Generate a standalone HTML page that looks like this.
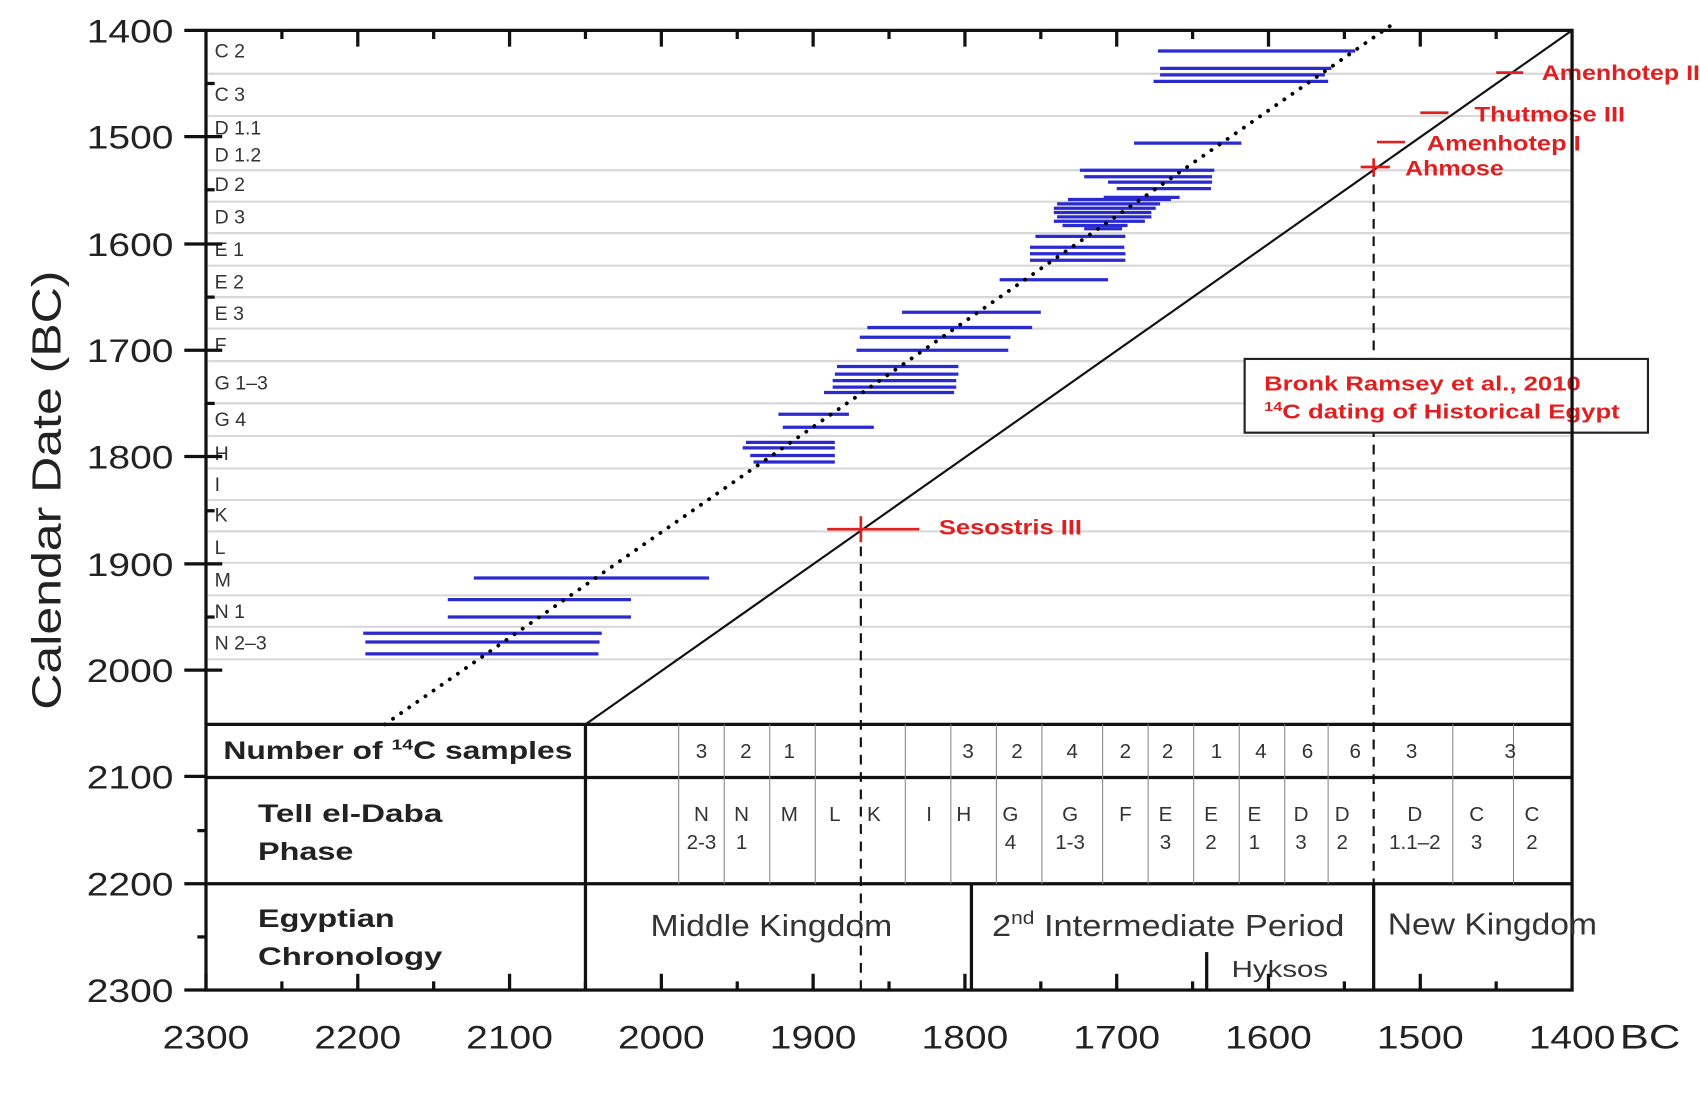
<!DOCTYPE html><html><head><style>html,body{margin:0;padding:0;background:#fff}svg{display:block}text{font-family:"Liberation Sans",sans-serif}</style></head><body>
<svg width="1700" height="1105" viewBox="0 0 1568 1019" preserveAspectRatio="none" xmlns="http://www.w3.org/2000/svg">
<g stroke="#d8d8d8" stroke-width="2">
<line x1="192" x2="1448" y1="68" y2="68"/><line x1="192" x2="1448" y1="107" y2="107"/><line x1="192" x2="1448" y1="157" y2="157"/><line x1="192" x2="1448" y1="186" y2="186"/><line x1="192" x2="1448" y1="215" y2="215"/><line x1="192" x2="1448" y1="245" y2="245"/><line x1="192" x2="1448" y1="274" y2="274"/><line x1="192" x2="1448" y1="303" y2="303"/><line x1="192" x2="1448" y1="333" y2="333"/><line x1="192" x2="1448" y1="372" y2="372"/><line x1="192" x2="1448" y1="402" y2="402"/><line x1="192" x2="1448" y1="432" y2="432"/><line x1="192" x2="1448" y1="461" y2="461"/><line x1="192" x2="1448" y1="490" y2="490"/><line x1="192" x2="1448" y1="519" y2="519"/><line x1="192" x2="1448" y1="549" y2="549"/><line x1="192" x2="1448" y1="578" y2="578"/><line x1="192" x2="1448" y1="608" y2="608"/>
</g>
<g font-size="18" fill="#333">
<text x="198" y="53">C 2</text><text x="198" y="93">C 3</text><text x="198" y="124">D 1.1</text><text x="198" y="149">D 1.2</text><text x="198" y="176">D 2</text><text x="198" y="206">D 3</text><text x="198" y="236">E 1</text><text x="198" y="266">E 2</text><text x="198" y="295">E 3</text><text x="198" y="324">F</text><text x="198" y="359">G 1–3</text><text x="198" y="393">G 4</text><text x="198" y="424">H</text><text x="198" y="453">I</text><text x="198" y="481">K</text><text x="198" y="511">L</text><text x="198" y="541">M</text><text x="198" y="570">N 1</text><text x="198" y="599">N 2–3</text>
</g>
<g stroke="#2a2ad0" stroke-width="3">
<line x1="1068" x2="1250" y1="47" y2="47"/><line x1="1070" x2="1228" y1="63" y2="63"/><line x1="1070" x2="1222" y1="69" y2="69"/><line x1="1064" x2="1225" y1="75" y2="75"/><line x1="1046" x2="1145" y1="132" y2="132"/>
<line x1="996" x2="1120" y1="157" y2="157"/><line x1="1000" x2="1118" y1="163" y2="163"/><line x1="1022" x2="1118" y1="168" y2="168"/><line x1="1030" x2="1117" y1="174" y2="174"/><line x1="1018" x2="1088" y1="182" y2="182"/><line x1="985" x2="1080" y1="184" y2="184"/>
<line x1="975" x2="1070" y1="188" y2="188"/><line x1="972" x2="1066" y1="192" y2="192"/><line x1="972" x2="1062" y1="196" y2="196"/><line x1="975" x2="1062" y1="200" y2="200"/><line x1="972" x2="1056" y1="204" y2="204"/><line x1="980" x2="1040" y1="208" y2="208"/><line x1="1000" x2="1035" y1="211" y2="211"/>
<line x1="955" x2="1038" y1="218" y2="218"/><line x1="950" x2="1037" y1="228" y2="228"/><line x1="950" x2="1038" y1="234" y2="234"/><line x1="950" x2="1038" y1="240" y2="240"/><line x1="922" x2="1022" y1="258" y2="258"/>
<line x1="832" x2="960" y1="288" y2="288"/><line x1="800" x2="952" y1="302" y2="302"/><line x1="793" x2="932" y1="311" y2="311"/><line x1="790" x2="930" y1="323" y2="323"/>
<line x1="772" x2="884" y1="338" y2="338"/><line x1="770" x2="884" y1="345" y2="345"/><line x1="768" x2="882" y1="351" y2="351"/><line x1="768" x2="882" y1="357" y2="357"/><line x1="760" x2="880" y1="362" y2="362"/>
<line x1="718" x2="783" y1="382" y2="382"/><line x1="722" x2="806" y1="394" y2="394"/><line x1="688" x2="770" y1="408" y2="408"/><line x1="685" x2="770" y1="413" y2="413"/><line x1="692" x2="770" y1="420" y2="420"/><line x1="695" x2="770" y1="426" y2="426"/>
<line x1="437" x2="654" y1="533" y2="533"/><line x1="413" x2="582" y1="553" y2="553"/><line x1="413" x2="582" y1="569" y2="569"/><line x1="335" x2="555" y1="584" y2="584"/><line x1="337" x2="553" y1="592" y2="592"/><line x1="337" x2="552" y1="603" y2="603"/>
</g>
<line x1="355" y1="668" x2="1285" y2="22" stroke="#000" stroke-width="3.5" stroke-dasharray="0.1 9" stroke-linecap="round"/>
<line x1="540" y1="668" x2="1450" y2="28" stroke="#111" stroke-width="2"/>
<g stroke="#111" stroke-width="2" stroke-dasharray="9 7"><line x1="794" y1="488" x2="794" y2="913"/><line x1="1267" y1="154" x2="1267" y2="913"/></g>
<g stroke="#e02020" stroke-width="2.5"><line x1="763" x2="848" y1="488" y2="488"/><line x1="794" x2="794" y1="476" y2="500"/><line x1="1255" x2="1282" y1="154" y2="154"/><line x1="1267" x2="1267" y1="146" y2="162"/><line x1="1270" x2="1296" y1="131" y2="131"/><line x1="1310" x2="1336" y1="104" y2="104"/><line x1="1380" x2="1405" y1="67" y2="67"/></g>
<g fill="#e02020" font-weight="bold" font-size="20" lengthAdjust="spacingAndGlyphs"><text x="866" y="493" textLength="132" lengthAdjust="spacingAndGlyphs">Sesostris III</text><text x="1296" y="162" textLength="91" lengthAdjust="spacingAndGlyphs">Ahmose</text><text x="1316" y="139" textLength="142" lengthAdjust="spacingAndGlyphs">Amenhotep I</text><text x="1360" y="112" textLength="139" lengthAdjust="spacingAndGlyphs">Thutmose III</text><text x="1422" y="74" textLength="146" lengthAdjust="spacingAndGlyphs">Amenhotep II</text></g>
<rect x="1148" y="331" width="372" height="68" fill="#fff" stroke="#222" stroke-width="2"/>
<g fill="#e02020" font-weight="bold" font-size="19"><text x="1166" y="360" textLength="292" lengthAdjust="spacingAndGlyphs">Bronk Ramsey et al., 2010</text><text x="1166" y="386" textLength="328" lengthAdjust="spacingAndGlyphs"><tspan font-size="12" dy="-7">14</tspan><tspan dy="7">C dating of Historical Egypt</tspan></text></g>
<rect x="190" y="28" width="1260" height="885" fill="none" stroke="#111" stroke-width="3"/>
<g stroke="#111" stroke-width="3"><line x1="190" x2="1450" y1="668" y2="668"/><line x1="190" x2="1450" y1="717" y2="717"/><line x1="190" x2="1450" y1="815" y2="815"/><line x1="540" x2="540" y1="668" y2="913"/><line x1="896" x2="896" y1="815" y2="913"/><line x1="1267" x2="1267" y1="815" y2="913"/><line x1="1113" x2="1113" y1="878" y2="913"/></g>
<g stroke="#888" stroke-width="1"><line x1="626" x2="626" y1="668" y2="815"/><line x1="668" x2="668" y1="668" y2="815"/><line x1="710" x2="710" y1="668" y2="815"/><line x1="752" x2="752" y1="668" y2="815"/><line x1="835" x2="835" y1="668" y2="815"/><line x1="877" x2="877" y1="668" y2="815"/><line x1="919" x2="919" y1="668" y2="815"/><line x1="961" x2="961" y1="668" y2="815"/><line x1="1017" x2="1017" y1="668" y2="815"/><line x1="1059" x2="1059" y1="668" y2="815"/><line x1="1101" x2="1101" y1="668" y2="815"/><line x1="1143" x2="1143" y1="668" y2="815"/><line x1="1185" x2="1185" y1="668" y2="815"/><line x1="1225" x2="1225" y1="668" y2="815"/><line x1="1340" x2="1340" y1="668" y2="815"/><line x1="1396" x2="1396" y1="668" y2="815"/></g>
<g font-size="23" fill="#222" font-weight="bold"><text x="206" y="700" textLength="322" lengthAdjust="spacingAndGlyphs">Number  of <tspan font-size="14" dy="-9">14</tspan><tspan dy="9">C samples</tspan></text><text x="238" y="758" textLength="170" lengthAdjust="spacingAndGlyphs">Tell el-Daba</text><text x="238" y="793" textLength="88" lengthAdjust="spacingAndGlyphs">Phase</text><text x="238" y="855" textLength="126" lengthAdjust="spacingAndGlyphs">Egyptian</text><text x="238" y="890" textLength="170" lengthAdjust="spacingAndGlyphs">Chronology</text></g>
<g font-size="19" fill="#333" text-anchor="middle"><text x="647" y="699">3</text><text x="688" y="699">2</text><text x="728" y="699">1</text><text x="893" y="699">3</text><text x="938" y="699">2</text><text x="989" y="699">4</text><text x="1038" y="699">2</text><text x="1077" y="699">2</text><text x="1122" y="699">1</text><text x="1163" y="699">4</text><text x="1206" y="699">6</text><text x="1250" y="699">6</text><text x="1302" y="699">3</text><text x="1393" y="699">3</text></g>
<g font-size="19" fill="#333" text-anchor="middle"><text x="647" y="757">N</text><text x="647" y="783">2-3</text><text x="684" y="757">N</text><text x="684" y="783">1</text><text x="728" y="757">M</text><text x="770" y="757">L</text><text x="806" y="757">K</text><text x="857" y="757">I</text><text x="889" y="757">H</text><text x="932" y="757">G</text><text x="932" y="783">4</text><text x="987" y="757">G</text><text x="987" y="783">1-3</text><text x="1038" y="757">F</text><text x="1075" y="757">E</text><text x="1075" y="783">3</text><text x="1117" y="757">E</text><text x="1117" y="783">2</text><text x="1157" y="757">E</text><text x="1157" y="783">1</text><text x="1200" y="757">D</text><text x="1200" y="783">3</text><text x="1238" y="757">D</text><text x="1238" y="783">2</text><text x="1305" y="757">D</text><text x="1305" y="783">1.1–2</text><text x="1362" y="757">C</text><text x="1362" y="783">3</text><text x="1413" y="757">C</text><text x="1413" y="783">2</text></g>
<g font-size="28" fill="#333"><text x="600" y="863" textLength="223" lengthAdjust="spacingAndGlyphs">Middle Kingdom</text><text x="915" y="863" textLength="325" lengthAdjust="spacingAndGlyphs">2<tspan font-size="17" dy="-11">nd</tspan><tspan dy="11"> Intermediate Period</tspan></text><text x="1280" y="862" textLength="193" lengthAdjust="spacingAndGlyphs">New Kingdom</text><text x="1136" y="901" font-size="21" textLength="89" lengthAdjust="spacingAndGlyphs">Hyksos</text></g>
<g stroke="#111" stroke-width="3">
<line x1="190" x2="190" y1="913" y2="898"/><line x1="330" x2="330" y1="913" y2="898"/><line x1="470" x2="470" y1="913" y2="898"/><line x1="610" x2="610" y1="913" y2="898"/><line x1="750" x2="750" y1="913" y2="898"/><line x1="890" x2="890" y1="913" y2="898"/><line x1="1030" x2="1030" y1="913" y2="898"/><line x1="1170" x2="1170" y1="913" y2="898"/><line x1="1310" x2="1310" y1="913" y2="898"/>
<line x1="260" x2="260" y1="913" y2="905"/><line x1="400" x2="400" y1="913" y2="905"/><line x1="540" x2="540" y1="913" y2="905"/><line x1="680" x2="680" y1="913" y2="905"/><line x1="820" x2="820" y1="913" y2="905"/><line x1="960" x2="960" y1="913" y2="905"/><line x1="1100" x2="1100" y1="913" y2="905"/><line x1="1240" x2="1240" y1="913" y2="905"/><line x1="1380" x2="1380" y1="913" y2="905"/>
<line x1="330" x2="330" y1="28" y2="43"/><line x1="470" x2="470" y1="28" y2="43"/><line x1="610" x2="610" y1="28" y2="43"/><line x1="750" x2="750" y1="28" y2="43"/><line x1="890" x2="890" y1="28" y2="43"/><line x1="1030" x2="1030" y1="28" y2="43"/><line x1="1170" x2="1170" y1="28" y2="43"/><line x1="1310" x2="1310" y1="28" y2="43"/>
<line x1="260" x2="260" y1="28" y2="36"/><line x1="400" x2="400" y1="28" y2="36"/><line x1="540" x2="540" y1="28" y2="36"/><line x1="680" x2="680" y1="28" y2="36"/><line x1="820" x2="820" y1="28" y2="36"/><line x1="960" x2="960" y1="28" y2="36"/><line x1="1100" x2="1100" y1="28" y2="36"/><line x1="1240" x2="1240" y1="28" y2="36"/><line x1="1380" x2="1380" y1="28" y2="36"/>
<line x1="170" x2="190" y1="28" y2="28"/><line x1="170" x2="205" y1="126" y2="126"/><line x1="170" x2="205" y1="225" y2="225"/><line x1="170" x2="205" y1="323" y2="323"/><line x1="170" x2="205" y1="421" y2="421"/><line x1="170" x2="205" y1="520" y2="520"/><line x1="170" x2="205" y1="618" y2="618"/><line x1="170" x2="190" y1="716" y2="716"/><line x1="170" x2="190" y1="815" y2="815"/><line x1="170" x2="190" y1="913" y2="913"/>
<line x1="190" x2="198" y1="77" y2="77"/><line x1="190" x2="198" y1="175" y2="175"/><line x1="190" x2="198" y1="274" y2="274"/><line x1="190" x2="198" y1="372" y2="372"/><line x1="190" x2="198" y1="471" y2="471"/><line x1="190" x2="198" y1="569" y2="569"/><line x1="182" x2="190" y1="766" y2="766"/><line x1="182" x2="190" y1="864" y2="864"/>
</g>
<g font-size="30" fill="#222"><text x="80" y="39" textLength="80" lengthAdjust="spacingAndGlyphs">1400</text><text x="80" y="137" textLength="80" lengthAdjust="spacingAndGlyphs">1500</text><text x="80" y="236" textLength="80" lengthAdjust="spacingAndGlyphs">1600</text><text x="80" y="334" textLength="80" lengthAdjust="spacingAndGlyphs">1700</text><text x="80" y="432" textLength="80" lengthAdjust="spacingAndGlyphs">1800</text><text x="80" y="531" textLength="80" lengthAdjust="spacingAndGlyphs">1900</text><text x="80" y="629" textLength="80" lengthAdjust="spacingAndGlyphs">2000</text><text x="80" y="727" textLength="80" lengthAdjust="spacingAndGlyphs">2100</text><text x="80" y="826" textLength="80" lengthAdjust="spacingAndGlyphs">2200</text><text x="80" y="924" textLength="80" lengthAdjust="spacingAndGlyphs">2300</text></g>
<g font-size="30" fill="#222"><text x="150" y="967" textLength="80" lengthAdjust="spacingAndGlyphs">2300</text><text x="290" y="967" textLength="80" lengthAdjust="spacingAndGlyphs">2200</text><text x="430" y="967" textLength="80" lengthAdjust="spacingAndGlyphs">2100</text><text x="570" y="967" textLength="80" lengthAdjust="spacingAndGlyphs">2000</text><text x="710" y="967" textLength="80" lengthAdjust="spacingAndGlyphs">1900</text><text x="850" y="967" textLength="80" lengthAdjust="spacingAndGlyphs">1800</text><text x="990" y="967" textLength="80" lengthAdjust="spacingAndGlyphs">1700</text><text x="1130" y="967" textLength="80" lengthAdjust="spacingAndGlyphs">1600</text><text x="1270" y="967" textLength="80" lengthAdjust="spacingAndGlyphs">1500</text><text x="1410" y="967" textLength="80" lengthAdjust="spacingAndGlyphs">1400</text></g>
<text x="1494" y="967" font-size="32" fill="#222" textLength="56" lengthAdjust="spacingAndGlyphs">BC</text>
<text transform="translate(56,452) rotate(-90)" font-size="38" fill="#222" text-anchor="middle" textLength="405" lengthAdjust="spacingAndGlyphs">Calendar Date (BC)</text>
</svg>
</body></html>
